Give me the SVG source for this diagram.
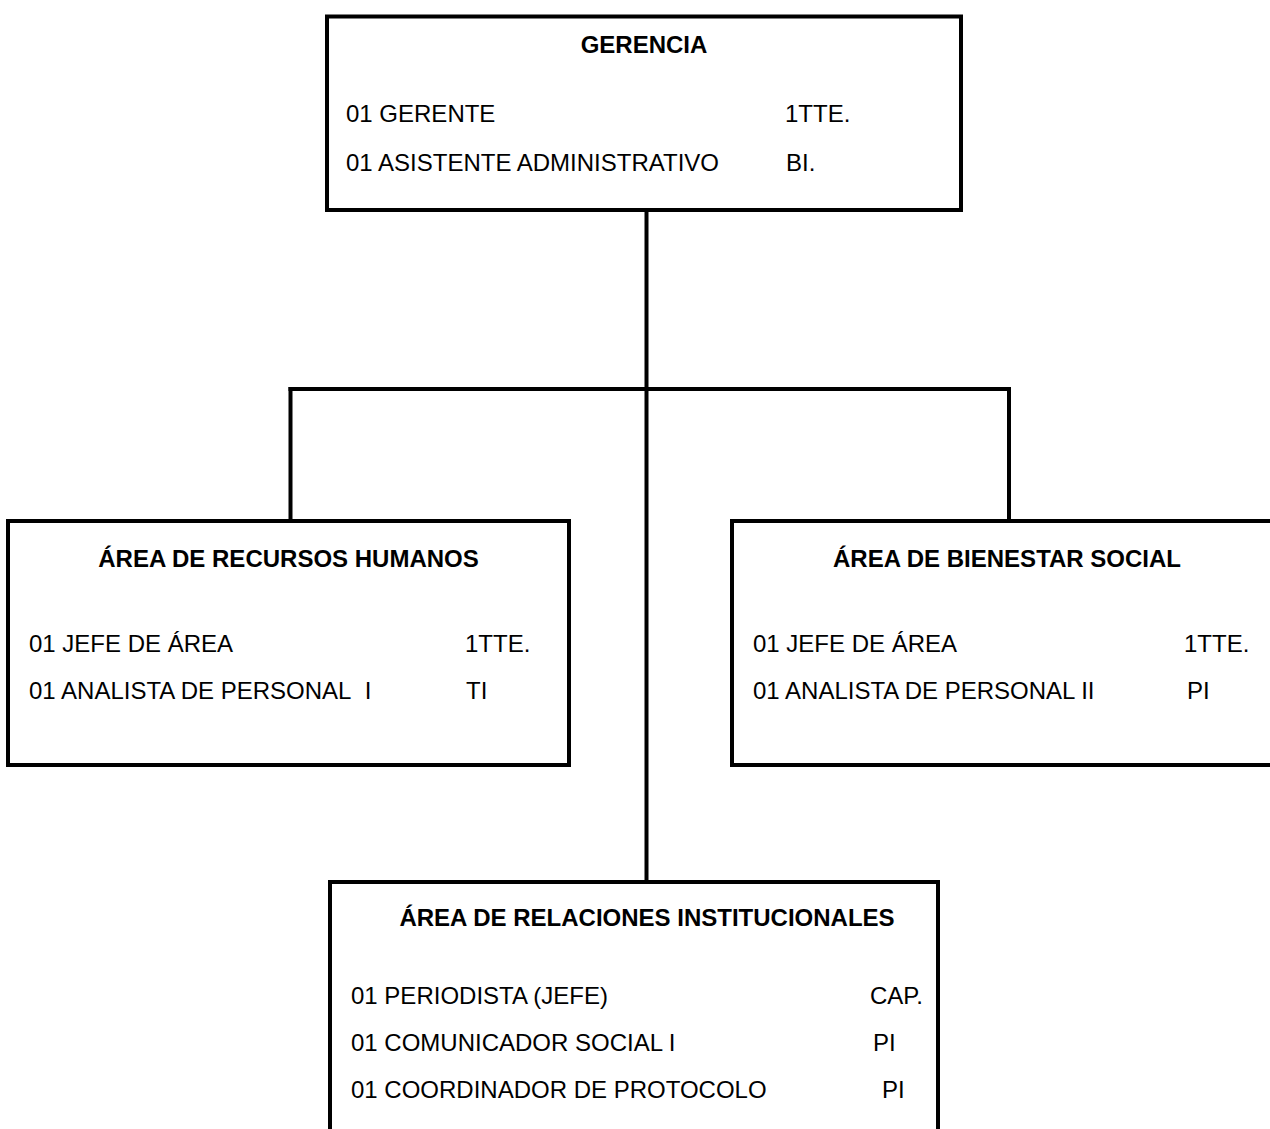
<svg xmlns="http://www.w3.org/2000/svg" width="1270" height="1129" viewBox="0 0 1270 1129">
  <style>
    .box { fill: #ffffff; stroke: #000000; stroke-width: 4; }
    .link { fill: none; stroke: #000000; stroke-width: 4; }
    text { font-family: "Liberation Sans", Arial, sans-serif; font-size: 24px; fill: #000000; white-space: pre; }
    .title { font-weight: bold; text-anchor: middle; }
  </style>
  <rect x="0" y="0" width="1270" height="1129" fill="#ffffff"/>

  <!-- connectors -->
  <g id="connectors">
    <line class="link" x1="646.5" y1="210" x2="646.5" y2="882"/>
    <line class="link" x1="288.5" y1="389" x2="1011" y2="389"/>
    <line class="link" x1="290.5" y1="387" x2="290.5" y2="521"/>
    <line class="link" x1="1009" y1="387" x2="1009" y2="521"/>
  </g>

  <!-- Gerencia -->
  <g id="gerencia">
    <rect class="box" x="327" y="16.5" width="634" height="193.5"/>
    <text class="title" x="644" y="52.5">GERENCIA</text>
    <text x="346" y="122">01 GERENTE</text>
    <text x="785" y="122">1TTE.</text>
    <text x="346" y="170.5">01 ASISTENTE ADMINISTRATIVO</text>
    <text x="786" y="170.5">BI.</text>
  </g>

  <!-- Área de Recursos Humanos -->
  <g id="recursos-humanos">
    <rect class="box" x="8" y="521" width="561" height="244"/>
    <text class="title" x="288.5" y="566.5">ÁREA DE RECURSOS HUMANOS</text>
    <text x="29" y="651.5">01 JEFE DE ÁREA</text>
    <text x="465" y="651.5">1TTE.</text>
    <text x="29" y="698.5">01 ANALISTA DE PERSONAL&#160;&#160;I</text>
    <text x="466" y="698.5">TI</text>
  </g>

  <!-- Área de Bienestar Social -->
  <g id="bienestar-social">
    <rect class="box" x="732" y="521" width="560" height="244"/>
    <text class="title" x="1007" y="566.5">ÁREA DE BIENESTAR SOCIAL</text>
    <text x="753" y="651.5">01 JEFE DE ÁREA</text>
    <text x="1184" y="651.5">1TTE.</text>
    <text x="753" y="698.5">01 ANALISTA DE PERSONAL II</text>
    <text x="1187" y="698.5">PI</text>
  </g>

  <!-- Área de Relaciones Institucionales -->
  <g id="relaciones-institucionales">
    <rect class="box" x="330" y="882" width="608" height="270"/>
    <text class="title" x="647" y="925.5">ÁREA DE RELACIONES INSTITUCIONALES</text>
    <text x="351" y="1003.5">01 PERIODISTA (JEFE)</text>
    <text x="870" y="1003.5">CAP.</text>
    <text x="351" y="1050.5">01 COMUNICADOR SOCIAL I</text>
    <text x="873" y="1050.5">PI</text>
    <text x="351" y="1097.5">01 COORDINADOR DE PROTOCOLO</text>
    <text x="882" y="1097.5">PI</text>
  </g>
</svg>
